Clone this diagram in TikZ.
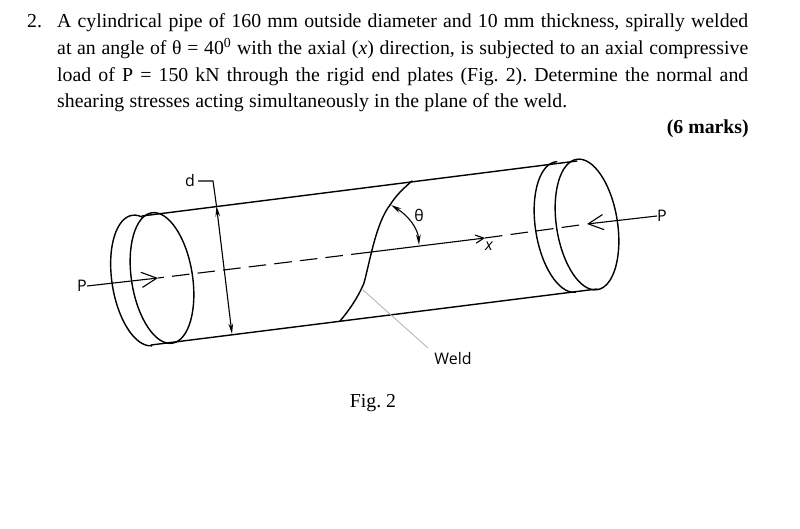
\documentclass[tikz,border=0pt]{standalone}
\usepackage{fontspec}
\setmainfont{Liberation Serif}
\newfontfamily\figfont{Open Sans}
\usetikzlibrary{arrows.meta}
\tikzset{
  pipeline/.style={line width=1.2pt,line cap=round},
  thinline/.style={line width=0.95pt},
  bodyline/.style={anchor=base west,inner sep=0pt,font=\fontsize{16.9}{19}\selectfont\frenchspacing},
  figlabel/.style={inner sep=0pt,font=\figfont\fontsize{13.6}{15}\selectfont},
  loadarrow/.style={thinline,-{Straight Barb[length=13pt,width=13pt,line width=0.95pt]}},
  dimarrow/.style={thinline,{Stealth[length=9pt,width=4pt]}-{Stealth[length=9pt,width=4pt]}},
  axisdash/.style={thinline,dash pattern=on 15pt off 7pt}
}
\begin{document}
\begin{tikzpicture}[x=0.03cm,y=0.03cm]
  \useasboundingbox (0,0) rectangle (800,529);
  % question text
  \node[bodyline] (num) at (27,501) {2.};
  \node[bodyline] (lineA) at (57,501) {\makebox[20.73cm][s]{A cylindrical pipe of 160 mm outside diameter and 10 mm thickness, spirally welded}};
  \node[bodyline] (lineB) at (57,474.5) {\makebox[20.73cm][s]{at an angle of θ = 40\textsuperscript{0} with the axial (\textit{x}) direction, is subjected to an axial compressive}};
  \node[bodyline] (lineC) at (57,447.5) {\makebox[20.73cm][s]{load of P = 150 kN through the rigid end plates (Fig. 2). Determine the normal and}};
  \node[bodyline] (lineD) at (57,421) {\makebox[15.3cm][s]{shearing stresses acting simultaneously in the plane of the weld.}};
  \node[bodyline,anchor=base east] (marks) at (749,395) {\textbf{(6 marks)}};
  % pipe outline
  \draw[pipeline] (142,313)--(577,368);
  \draw[pipeline] (151,184)--(597,240);
  \foreach \cx/\cy in {162/251,587/304.5}
    \draw[pipeline,rotate around={9:(\cx,\cy)}] (\cx,\cy) ellipse [x radius=30.5,y radius=66];
  \draw[pipeline,shift={(142.5,248.5)},rotate=9] (72:30.5 and 66) arc [start angle=72,end angle=268,x radius=30.5,y radius=66];
  \draw[pipeline,shift={(566,302)},rotate=9] (88:30.5 and 66) arc [start angle=88,end angle=268,x radius=30.5,y radius=66];
  % weld
  \draw[pipeline] (340,208) .. controls (352,222) and (360,236) .. (364,246)
    .. controls (370,268) and (376,306) .. (390,324)
    .. controls (397,335) and (404,341) .. (412,348);
  \coordinate (weldstart) at (363,239);
  \node[figlabel] (weld) at (453,170) {Weld};
  \draw[gray!60,line width=0.7pt] (weldstart)--(428,181);
  % axis and loads
  \node[figlabel] (Pleft) at (82,243) {P};
  \node[figlabel] (Pright) at (662,313) {P};
  \node[figlabel,font=\figfont\itshape\fontsize{13.6}{15}\selectfont] (xlabel) at (489,283) {x};
  \node[figlabel] (thetalabel) at (419,314) {θ};
  \coordinate (tipL) at (158,251);
  \coordinate (axisA) at (363,276);
  \coordinate (tipX) at (485,291);
  \coordinate (tipR) at (587,305);
  \draw[loadarrow] (Pleft.east)--(tipL);
  \draw[loadarrow] (Pright.west)--(tipR);
  \draw[axisdash,dash phase=10pt] (tipL)--(axisA);
  \draw[thinline,-{Straight Barb[length=7pt,width=7pt]}] (axisA)--(tipX);
  \draw[axisdash] (tipX)--(tipR);
  % angle
  \draw[dimarrow] (391,324) .. controls (409,313) and (418,300) .. (419,284);
  % diameter
  \node[figlabel] (dlabel) at (190,348) {d};
  \coordinate (dbend) at (213,348);
  \coordinate (dtop) at (216.5,323);
  \coordinate (dbot) at (232,195);
  \draw[thinline] (dlabel.east)++(3,0)--(dbend)--(dtop);
  \draw[dimarrow] (dtop)--(dbot);
  % caption
  \node[bodyline,anchor=base] (caption) at (373,121) {Fig. 2};
\end{tikzpicture}
\end{document}
